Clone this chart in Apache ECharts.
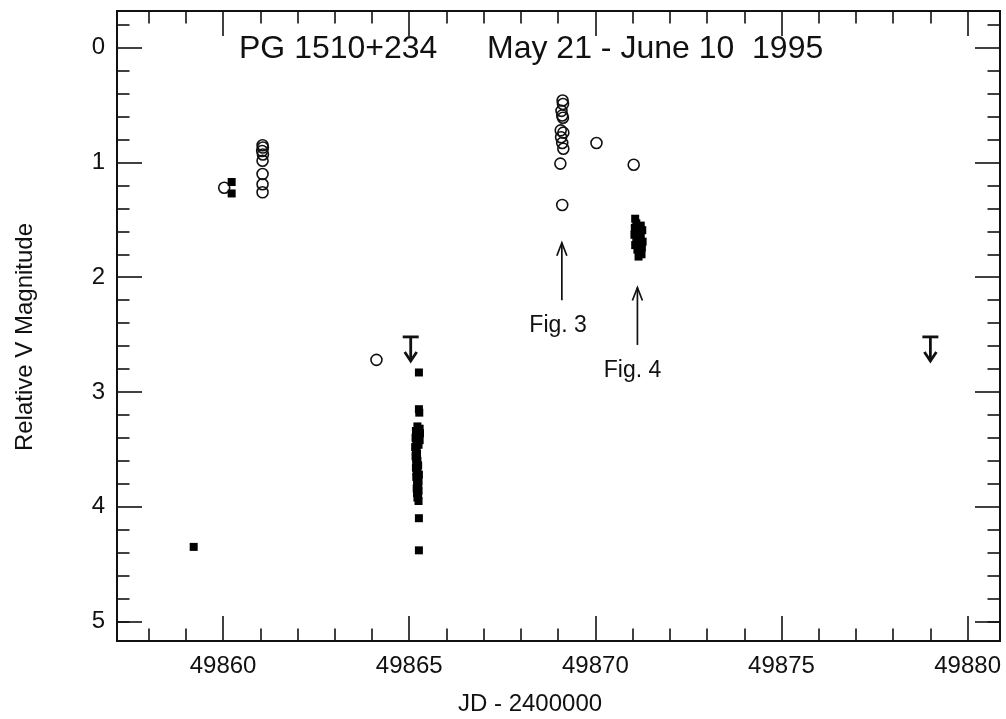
<!DOCTYPE html>
<html>
<head>
<meta charset="utf-8">
<script src="https://cdn.jsdelivr.net/npm/echarts@6/dist/echarts.min.js"></script>
<style>
    html, body { margin: 0; background: #fff; }
    #chart { width: 1006px; height: 719px; }
</style>
</head>
<body>
<div id="chart"></div>
<script>
// axis ranges (JD - 2400000, relative V magnitude)
const xMin = 49857.15;
const xMax = 49880.87;
const yMin = -0.32;
const yMax = 5.17;

const xMajorTicks = [49860, 49865, 49870, 49875, 49880];
const xMinorTicks = [49858, 49859, 49861, 49862, 49863, 49864, 49866, 49867, 49868, 49869,
    49871, 49872, 49873, 49874, 49876, 49877, 49878, 49879];
const yMajorTicks = [0, 1, 2, 3, 4, 5];
const yMinorTicks = [-0.2, 0.2, 0.4, 0.6, 0.8, 1.2, 1.4, 1.6, 1.8, 2.2, 2.4, 2.6, 2.8,
    3.2, 3.4, 3.6, 3.8, 4.2, 4.4, 4.6, 4.8, 5.0];

// filled squares
const filledSquares = [
    [49859.21, 4.35],
    [49860.23, 1.17], [49860.23, 1.27],
    [49865.26, 2.83], [49865.26, 3.15], [49865.27, 3.18],
    [49865.22, 3.30], [49865.28, 3.32], [49865.18, 3.34], [49865.29, 3.36],
    [49865.24, 3.38], [49865.17, 3.40], [49865.28, 3.42], [49865.19, 3.44],
    [49865.25, 3.46], [49865.16, 3.48], [49865.20, 3.50], [49865.18, 3.52],
    [49865.21, 3.54], [49865.17, 3.56], [49865.19, 3.58], [49865.22, 3.60],
    [49865.19, 3.62], [49865.24, 3.64], [49865.18, 3.66], [49865.22, 3.68],
    [49865.20, 3.70], [49865.26, 3.72], [49865.19, 3.74], [49865.23, 3.76],
    [49865.25, 3.78], [49865.21, 3.80], [49865.24, 3.82], [49865.20, 3.84],
    [49865.25, 3.86], [49865.21, 3.88], [49865.24, 3.90], [49865.22, 3.92],
    [49865.25, 3.95],
    [49865.26, 4.10], [49865.26, 4.38],
    [49871.07, 1.49], [49871.10, 1.53], [49871.22, 1.55], [49871.06, 1.57],
    [49871.26, 1.59], [49871.12, 1.61], [49871.05, 1.63], [49871.22, 1.65],
    [49871.10, 1.67], [49871.27, 1.69], [49871.15, 1.71], [49871.07, 1.72],
    [49871.25, 1.74], [49871.13, 1.76], [49871.18, 1.78], [49871.24, 1.80],
    [49871.16, 1.82]
];

// open circles
const openCircles = [
    [49860.03, 1.22],
    [49861.06, 0.85], [49861.07, 0.87], [49861.05, 0.90], [49861.07, 0.93],
    [49861.06, 0.985], [49861.06, 1.10], [49861.06, 1.19], [49861.06, 1.26],
    [49864.12, 2.72],
    [49869.12, 0.46], [49869.13, 0.49], [49869.09, 0.55], [49869.11, 0.59],
    [49869.13, 0.61], [49869.07, 0.72], [49869.14, 0.74], [49869.08, 0.78],
    [49869.11, 0.83], [49869.14, 0.88], [49869.06, 1.01], [49869.11, 1.37],
    [49870.03, 0.83],
    [49871.03, 1.02]
];

// upper limits: x, bar magnitude, arrow tip magnitude
const upperLimits = [
    [49865.04, 2.52, 2.73],
    [49879.00, 2.52, 2.73]
];

// annotation arrows: x, tail magnitude, tip magnitude
const figArrows = [
    [49869.10, 2.20, 1.70],
    [49871.13, 2.59, 2.09]
];
const figLabels = [
    [49869.0, 2.42, 'Fig. 3'],
    [49871.0, 2.81, 'Fig. 4']
];

const FONT = "'Liberation Sans', Arial, sans-serif";
const INK = '#111';

function xAxisCfg(position, ticks, len, showLabel) {
    return {
        type: 'value',
        position: position,
        min: xMin,
        max: xMax,
        axisLine: { show: true, onZero: false, lineStyle: { color: INK, width: 2 } },
        axisTick: { show: true, inside: true, length: len, customValues: ticks,
            lineStyle: { color: INK, width: 1.6 } },
        axisLabel: { show: showLabel, customValues: ticks, margin: 13,
            fontFamily: FONT, fontSize: 24, color: INK,
            formatter: (v) => String(v) },
        splitLine: { show: false }
    };
}

function yAxisCfg(position, ticks, len, showLabel) {
    return {
        type: 'value',
        position: position,
        inverse: true,
        min: yMin,
        max: yMax,
        axisLine: { show: true, onZero: false, lineStyle: { color: INK, width: 2 } },
        axisTick: { show: true, inside: true, length: len, customValues: ticks,
            lineStyle: { color: INK, width: 1.6 } },
        axisLabel: { show: showLabel, customValues: ticks, margin: 12,
            fontFamily: FONT, fontSize: 24, color: INK,
            formatter: (v) => String(v) },
        splitLine: { show: false }
    };
}

let chart = echarts.init(document.getElementById('chart'));
let option = {
    animation: false,
    backgroundColor: '#fff',
    grid: { left: 117, right: 6, top: 11, bottom: 78 },

    // Horizontal axes (labelled major, minor, and the mirrored top ones)
    xAxis: [
        xAxisCfg('bottom', xMajorTicks, 25, true),
        xAxisCfg('bottom', xMinorTicks, 12.5, false),
        xAxisCfg('top', xMajorTicks, 25, false),
        xAxisCfg('top', xMinorTicks, 12.5, false)
    ],

    // Vertical axes, magnitude grows downward
    yAxis: [
        yAxisCfg('left', yMajorTicks, 25, true),
        yAxisCfg('left', yMinorTicks, 12.5, false),
        yAxisCfg('right', yMajorTicks, 25, false),
        yAxisCfg('right', yMinorTicks, 12.5, false)
    ],

    graphic: [
        { type: 'text', left: 239, top: 33,
            style: { text: 'PG 1510+234', font: '32px ' + FONT, fill: INK } },
        { type: 'text', left: 487, top: 33,
            style: { text: 'May 21 - June 10  1995', font: '32px ' + FONT, fill: INK } },
        { type: 'text', left: 458, top: 692,
            style: { text: 'JD - 2400000', font: '24px ' + FONT, fill: INK } },
        { type: 'text', x: 25, y: 337, rotation: Math.PI / 2,
            style: { text: 'Relative V Magnitude', font: '24px ' + FONT, fill: INK,
                align: 'center', verticalAlign: 'middle' } }
    ],

    series: [
        {
            name: 'open',
            type: 'scatter',
            symbol: 'circle',
            symbolSize: 11,
            itemStyle: { color: 'rgba(0,0,0,0)', borderColor: INK, borderWidth: 1.6, opacity: 1 },
            data: openCircles
        },
        {
            name: 'filled',
            type: 'scatter',
            symbol: 'rect',
            symbolSize: 8,
            itemStyle: { color: '#000', opacity: 1 },
            data: filledSquares
        },
        {
            name: 'limits',
            type: 'custom',
            data: upperLimits,
            renderItem: (params, api) => {
                const bar = api.coord([api.value(0), api.value(1)]);
                const tip = api.coord([api.value(0), api.value(2)]);
                const st = { stroke: INK, lineWidth: 2.8, fill: 'none' };
                return {
                    type: 'group',
                    children: [
                        { type: 'line', shape: { x1: bar[0] - 8, y1: bar[1], x2: bar[0] + 8, y2: bar[1] }, style: st },
                        { type: 'line', shape: { x1: bar[0], y1: bar[1], x2: tip[0], y2: tip[1] - 1 }, style: st },
                        { type: 'polyline', shape: { points: [[tip[0] - 6, tip[1] - 9], [tip[0], tip[1]], [tip[0] + 6, tip[1] - 9]] }, style: st }
                    ]
                };
            }
        },
        {
            name: 'arrows',
            type: 'custom',
            data: figArrows,
            renderItem: (params, api) => {
                const tail = api.coord([api.value(0), api.value(1)]);
                const tip = api.coord([api.value(0), api.value(2)]);
                const st = { stroke: INK, lineWidth: 1.7, fill: 'none' };
                return {
                    type: 'group',
                    children: [
                        { type: 'line', shape: { x1: tail[0], y1: tail[1], x2: tip[0], y2: tip[1] }, style: st },
                        { type: 'polyline', shape: { points: [[tip[0] - 5, tip[1] + 13], [tip[0], tip[1]], [tip[0] + 5, tip[1] + 13]] }, style: st }
                    ]
                };
            }
        },
        {
            name: 'labels',
            type: 'custom',
            data: figLabels,
            renderItem: (params, api) => {
                const p = api.coord([api.value(0), api.value(1)]);
                return {
                    type: 'text',
                    style: {
                        x: p[0], y: p[1],
                        text: figLabels[params.dataIndex][2],
                        font: '23px ' + FONT,
                        fill: INK,
                        align: 'center',
                        verticalAlign: 'middle'
                    }
                };
            }
        }
    ]
};
chart.setOption(option);
</script>
</body>
</html>
